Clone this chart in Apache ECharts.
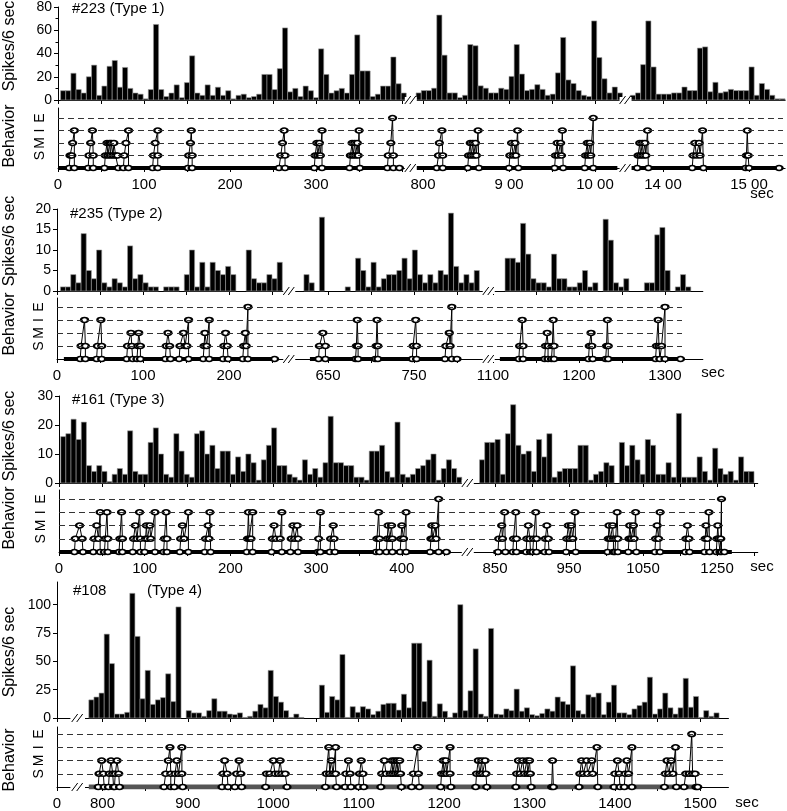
<!DOCTYPE html>
<html>
<head>
<meta charset="utf-8">
<script src="https://cdn.jsdelivr.net/npm/echarts@6.0.0/dist/echarts.min.js"></script>
<style>
html,body{margin:0;padding:0;background:#fff;}
#chart{width:787px;height:811px;}
</style>
</head>
<body>
<div id="chart"></div>
<script>
// ================= DATA =================
// Behaviour level names (0 = rest baseline)
const behLevels = {1:'S', 2:'M', 3:'I', 4:'E'};

// ---------- Panel 1: #223 (Type 1) ----------
const hist1A_start = 3;
const hist1A = [8,8,23,9,6,20,30,4,12,29,34,11,28,10,6,5,1,9,65,9,3,6,13,2,15,38,6,4,13,4,11,4,8,1,4,5,2,3,5,22,22,9,27,62,7,10,3,12,8,2,44,22,6,8,10,6,22,56,25,25,3,5,12,12,37,14,6];
const hist1B_start = 792;
const hist1B = [6,8,8,10,72,38,6,6,2,4,47,46,12,10,6,6,10,9,20,47,22,8,9,13,9,4,5,23,53,17,14,8,4,3,67,36,18,6,11,6];
const hist1C_start = 1362;
const hist1C = [4,6,30,67,28,5,5,5,6,6,11,8,8,44,45,7,15,6,7,9,8,8,8,28,4,14,9,4,1,1];
const base1A = [1, 398], base1B = [791, 1026], base1C = [1361, 1536];
const beh1A = [
 [[13,0],[14,1],[16,1],[17,2],[19,3],[19,0]],
 [[35,0],[36,1],[38,2],[40,3],[41,1],[41,0]],
 [[54,0],[55,1],[57,2],[58,1],[60,2],[61,1],[62,2],[64,1],[65,2],[67,1],[69,1],[70,0]],
 [[76,0],[77,1],[79,2],[82,3],[82,0]],
 [[110,0],[111,1],[113,2],[116,3],[116,1],[116,0]],
 [[151,0],[152,1],[154,2],[155,3],[156,1],[156,0]],
 [[257,0],[259,1],[261,2],[263,3],[264,1],[264,0]],
 [[298,0],[299,1],[301,2],[302,1],[304,2],[305,1],[307,3],[307,0]],
 [[339,0],[340,1],[342,2],[343,1],[345,2],[346,1],[348,2],[349,1],[350,3],[351,0]],
 [[383,0],[384,1],[387,2],[389,4],[390,1],[390,0]],
 [[397,0]]
];
const beh1B = [
 [[816,0],[818,1],[819,2],[822,3],[823,1],[823,0]],
 [[852,0],[853,1],[855,2],[856,1],[858,2],[859,1],[861,2],[862,1],[864,3],[865,0]],
 [[900,0],[901,1],[903,2],[905,1],[907,2],[908,1],[910,3],[911,0]],
 [[953,0],[954,1],[956,2],[957,1],[960,2],[961,1],[962,3],[963,0]],
 [[988,0],[989,1],[991,2],[992,1],[994,2],[995,1],[998,4],[998,0]]
];
const beh1C = [
 [[1370,0],[1371,1],[1373,2],[1374,1],[1376,2],[1377,1],[1379,2],[1380,1],[1382,3],[1383,0]],
 [[1434,0],[1435,1],[1437,2],[1439,1],[1442,2],[1443,1],[1446,3],[1447,0]],
 [[1496,0],[1497,1],[1498,3],[1499,1],[1500,0]],
 [[1535,0]]
];
const xTicks1A = [0,50,100,150,200,250,300,350,400];
const xLabels1A = [[0,'0'],[100,'100'],[200,'200'],[300,'300']];
const xTicks1B = [800,850,900,950,1000];
const xLabels1B = [[800,'800'],[900,'9 00'],[1000,'10 00']];
const xTicks1C = [1400,1450,1500];
const xLabels1C = [[1400,'14 00'],[1500,'15 00']];

// ---------- Panel 2: #235 (Type 2) ----------
const hist2A_start = 4;
const hist2A = [1,1,4,2,14,5,3,10,2,1,3,2,1,11,3,4,2,1,1,0,1,1,1,0,4,10,1,7,1,7,5,4,6,4,0,0,10,3,2,2,4,3,7];
const hist2B_start = 610;
const hist2B = [0,0,4,2,0,18,0,0,0,0,1,0,8,5,1,7,1,3,4,4,5,8,3,10,4,2,4,2,5,4,19,6,2,4,2,5];
const hist2C_start = 1114;
const hist2C = [8,8,7,16.5,9,3,2,2,1,9,3,3,1,1,2,5,1,2,0,17.5,12.4,2,1,3,0,0,0,2,2,13.7,15.5,5,0,1,4,1];
const base2A = [8, 254], base2B = [629, 804], base2C = [1108, 1319];
const beh2A = [
 [[27,0],[28,1],[32,3],[33,1],[33,0]],
 [[46,0],[47,1],[51,3],[52,1],[52,0]],
 [[81,0],[82,1],[86,2],[87,1],[88,0]],
 [[93,0],[94,1],[95,2],[97,1],[97,0]],
 [[126,0],[127,1],[129,2],[131,1],[132,0]],
 [[142,0],[143,1],[147,2],[149,1],[151,1],[153,3],[153,0]],
 [[170,0],[171,1],[172,2],[174,1],[177,3],[177,0]],
 [[193,0],[194,1],[196,2],[198,1],[199,0]],
 [[216,0],[217,1],[219,2],[220,1],[222,4],[222,0]],
 [[253,0]]
];
const beh2B = [
 [[639,0],[640,1],[644,2],[647,1],[647,0]],
 [[682,0],[683,1],[684,3],[685,1],[685,0]],
 [[705,0],[706,1],[707,3],[708,1],[708,0]],
 [[748,0],[749,1],[752,3],[753,1],[753,0]],
 [[786,0],[787,1],[791,2],[792,1],[794,4],[794,0]],
 [[800,0]]
];
const beh2C = [
 [[1130,0],[1131,1],[1134,3],[1135,1],[1135,0]],
 [[1160,0],[1161,1],[1163,2],[1164,1],[1164,0]],
 [[1168,0],[1169,1],[1170,3],[1171,1],[1171,0]],
 [[1211,0],[1212,1],[1214,2],[1215,1],[1216,0]],
 [[1231,0],[1232,1],[1233,3],[1234,1],[1234,0]],
 [[1289,0],[1290,1],[1292,3],[1293,1],[1294,0],[1296,1],[1300,4],[1300,0]],
 [[1318,0]]
];
const xTicks2A = [0,50,100,150,200,250];
const xLabels2A = [[0,'0'],[100,'100'],[200,'200']];
const xTicks2B = [650,700,750,800];
const xLabels2B = [[650,'650'],[750,'750']];
const xTicks2C = [1100,1150,1200,1250,1300];
const xLabels2C = [[1100,'1100'],[1200,'1200'],[1300,'1300']];

// ---------- Panel 3: #161 (Type 3) ----------
const hist3A_start = 2;
const hist3A = [16,17,22,15,21,6,4,6,4,0.5,3,5,3,18,4,3,3,14,19,10,3,2,17,11,3,2,17,18,10,13,5,11,11,3,9,4,10,7,1,8,13,19,6,6,3,2,1,8,3,5,2,7,23,7,7,6,6,2,2,1,11,11,13,4,2,21,3,2,3,5,6,8,10,1,5,8,5,2];
const hist3B_start = 829;
const hist3B = [8,14,14,15,3,17,27,13,10,11,4,15,9,17,2,4,5,5,5,13,13,1,3,4,7,6,0,14,6,13,8,3,15,13,3,3,7,2,24,2,2,2,9,4,1,12,5,3,4,1,9,4,4];
const base3A = [1, 456], base3B = [848, 1170];
const beh3A = [
 [[18,0],[19,1],[24,2],[27,1],[28,0]],
 [[40,0],[41,1],[44,2],[46,1],[48,3],[48,0]],
 [[53,0],[54,1],[56,3],[57,1],[57,0]],
 [[70,0],[71,1],[73,3],[74,1],[74,0]],
 [[86,0],[87,1],[89,2],[91,1],[94,3],[95,1],[95,0]],
 [[100,0],[101,1],[102,2],[103,1],[106,2],[107,1],[112,3],[112,0]],
 [[122,0],[123,1],[125,3],[126,1],[126,0]],
 [[141,0],[142,1],[144,2],[146,1],[151,3],[151,0]],
 [[170,0],[171,1],[174,2],[175,1],[176,3],[177,0]],
 [[219,0],[220,1],[221,3],[222,1],[224,1],[226,3],[226,0]],
 [[248,0],[249,1],[251,2],[253,1],[258,1],[260,3],[260,0]],
 [[270,0],[271,1],[273,2],[275,1],[278,2],[279,1],[279,0]],
 [[302,0],[303,1],[305,3],[305,0]],
 [[316,0],[317,1],[320,2],[321,1],[322,0]],
 [[370,0],[371,1],[373,3],[374,1],[374,0]],
 [[382,0],[383,1],[384,2],[386,1],[388,2],[389,1],[389,0]],
 [[398,0],[399,1],[400,2],[402,1],[405,3],[405,0]],
 [[433,0],[434,1],[435,2],[436,1],[439,2],[440,1],[443,4],[443,0]],
 [[452,0]]
];
const beh3B = [
 [[854,0],[855,1],[859,2],[860,1],[863,3],[864,0]],
 [[874,0],[875,1],[878,3],[879,1],[879,0]],
 [[892,0],[893,1],[895,2],[897,1],[898,0]],
 [[901,0],[902,1],[905,3],[906,1],[906,0]],
 [[917,0],[918,1],[920,2],[922,1],[923,0]],
 [[946,0],[947,1],[949,2],[951,1],[953,2],[955,1],[958,3],[959,0]],
 [[1002,0],[1003,1],[1004,2],[1006,1],[1009,2],[1010,1],[1010,0]],
 [[1012,0],[1013,1],[1015,3],[1016,1],[1016,0]],
 [[1030,0],[1031,1],[1032,2],[1034,1],[1037,2],[1038,1],[1040,3],[1041,0]],
 [[1066,0],[1067,1],[1069,2],[1071,1],[1073,3],[1073,0]],
 [[1107,0],[1108,1],[1110,2],[1112,1],[1113,0]],
 [[1133,0],[1134,1],[1135,2],[1137,1],[1139,3],[1140,0]],
 [[1149,0],[1150,1],[1151,2],[1152,1],[1154,0],[1155,1],[1156,4],[1156,0],[1160,0]]
];
const xTicks3A = [0,50,100,150,200,250,300,350,400,450];
const xLabels3A = [[0,'0'],[100,'100'],[200,'200'],[300,'300'],[400,'400']];
const xTicks3B = [850,900,950,1000,1050,1100,1150,1200];
const xLabels3B = [[850,'850'],[950,'950'],[1050,'1050'],[1150,'1250']];

// ---------- Panel 4: #108 (Type 4) ----------
const hist4B_start = 784;
const hist4B = [16,18.5,22,74,48,3.5,3.5,5,110,72,17,42,12,16,18,39,14.5,98,0,6.5,4.5,4.5,1.5,6.5,17,6,6,3.5,3,4.5,0.5,1.5,6,12,9,42,19,14,6.5,0.5,3.5,0.5,0,0,0,29,5,19,16,56,0.5,10,5,10,8,3,6,12,13,13,7,
 21,9,66,66,14.5,51,1.5,12.5,6,0.5,4.5,100,6.5,24,61,3.5,1.5,79,3.5,3,8,6.5,25.5,6,9,3,2,4,8,6,18.5,14.5,12,46,6.5,3.5,20.5,18.5,22,3,14,29,4.5,4.5,3,8,11,14,36,3.5,8,22,9,3.5,9,35,9.5,19,0.5,6.5,1.5,4.5];
const base4B = [784, 1498];
const beh4B = [
 [[795,0],[796,1],[799,2],[801,1],[802,0]],
 [[807,0],[808,1],[810,2],[812,1],[813,0]],
 [[814,0],[815,1],[817,2],[819,1],[820,0]],
 [[872,0],[874,1],[877,2],[879,3],[880,1],[880,0]],
 [[884,0],[885,1],[887,2],[889,1],[893,3],[893,1],[894,0]],
 [[940,0],[941,1],[943,2],[946,1],[947,0]],
 [[955,0],[957,1],[960,2],[962,1],[963,0]],
 [[991,0],[992,1],[996,1],[1000,2],[1002,1],[1006,1],[1008,2],[1010,1],[1014,1],[1016,0]],
 [[1061,0],[1062,1],[1065,3],[1066,1],[1068,2],[1070,1],[1073,3],[1073,1],[1074,0]],
 [[1084,0],[1085,1],[1088,2],[1090,1],[1091,0]],
 [[1100,0],[1101,1],[1103,2],[1105,1],[1106,0]],
 [[1126,0],[1127,1],[1130,2],[1132,1],[1137,1],[1139,2],[1140,1],[1142,2],[1143,1],[1145,2],[1146,1],[1148,2],[1149,1],[1150,0]],
 [[1162,0],[1164,1],[1169,3],[1170,1],[1171,0]],
 [[1196,0],[1197,1],[1199,2],[1200,1],[1202,2],[1203,1],[1207,3],[1207,1],[1208,0]],
 [[1237,0],[1238,1],[1240,2],[1242,1],[1244,2],[1245,1],[1248,2],[1249,1],[1250,0]],
 [[1284,0],[1285,1],[1287,2],[1289,1],[1292,2],[1294,1],[1297,2],[1298,1],[1300,2],[1301,1],[1302,0]],
 [[1326,0],[1327,2],[1328,0]],
 [[1358,0],[1359,1],[1361,2],[1363,1],[1367,2],[1368,1],[1373,2],[1374,1],[1379,3],[1380,0]],
 [[1399,0],[1400,1],[1403,2],[1405,1],[1406,0]],
 [[1411,0],[1412,1],[1414,2],[1416,1],[1420,3],[1420,0]],
 [[1458,0],[1459,1],[1461,2],[1463,1],[1466,2],[1468,1],[1471,3],[1472,0]],
 [[1481,0],[1483,1],[1487,1],[1490,4],[1491,1],[1494,1],[1495,0],[1497,0]]
];
const xTicks4A = [0];
const xLabels4A = [[0,'0']];
const xTicks4B = [800,850,900,950,1000,1050,1100,1150,1200,1250,1300,1350,1400,1450,1500];
const xLabels4B = [[800,'800'],[900,'900'],[1000,'1000'],[1100,'1100'],[1200,'1200'],[1300,'1300'],[1400,'1400'],[1500,'1500']];

// ================= LAYOUT =================
const FONT = 'Liberation Sans, Arial, Helvetica, sans-serif';
const panels = [
 {title:[['#223 (Type 1)',72,9]], hist:{top:5.6,h:94.4,max:80,step:20,minor:true}, beh:{top:108,h:60,max:4.8},
  dashEnd:783, baseColor:'#000', baseWidth:4,
  names:{spikes:[10,46], beh:[10,136]}, sec:[762,194],
  segs:[
   {left:58, min:0, max:406, k:0.86, ticks:xTicks1A, labels:xLabels1A, bars:hist1A, barStart:hist1A_start, bin:6, beh:beh1A, base:base1A},
   {left:414.4, min:790, max:1032, k:0.86, ticks:xTicks1B, labels:xLabels1B, bars:hist1B, barStart:hist1B_start, bin:6, beh:beh1B, base:base1B},
   {left:628.6, min:1360, max:1542, k:0.86, ticks:xTicks1C, labels:xLabels1C, bars:hist1C, barStart:hist1C_start, bin:6, beh:beh1C, base:base1C}
  ]},
 {title:[['#235 (Type 2)',70,214]], hist:{top:209,h:82,max:20,step:5,minor:false}, beh:{top:298,h:61,max:4.69},
  dashEnd:682, baseColor:'#000', baseWidth:4,
  names:{spikes:[10,241], beh:[10,324]}, sec:[713,373],
  segs:[
   {left:57, min:0, max:265, k:0.86, ticks:xTicks2A, labels:xLabels2A, bars:hist2A, barStart:hist2A_start, bin:6, beh:beh2A, base:base2A},
   {left:293.6, min:610, max:832, k:0.86, ticks:xTicks2B, labels:xLabels2B, bars:hist2B, barStart:hist2B_start, bin:6, beh:beh2B, base:base2B},
   {left:493, min:1100, max:1344, k:0.86, ticks:xTicks2C, labels:xLabels2C, bars:hist2C, barStart:hist2C_start, bin:6, beh:beh2C, base:base2C}
  ]},
 {title:[['#161 (Type 3)',72,400]], hist:{top:396,h:87,max:30,step:10,minor:false}, beh:{top:490,h:62,max:4.68},
  dashEnd:723, baseColor:'#000', baseWidth:4,
  names:{spikes:[10,436], beh:[10,518]}, sec:[762,567],
  segs:[
   {left:59, min:0, max:472, k:0.857, ticks:xTicks3A, labels:xLabels3A, bars:hist3A, barStart:hist3A_start, bin:6, beh:beh3A, base:base3A},
   {left:472.1, min:819, max:1205, k:0.74, ticks:xTicks3B, labels:xLabels3B, bars:hist3B, barStart:hist3B_start, bin:7, beh:beh3B, base:base3B}
  ]},
 {title:[['#108',73,591],['(Type 4)',147,591]], hist:{top:582,h:136,max:120,step:25,minor:false}, beh:{top:727,h:60,max:4.53},
  dashEnd:727, baseColor:'#555', baseWidth:5,
  names:{spikes:[10,652], beh:[10,760]}, sec:[747,803],
  segs:[
   {left:57, min:0, max:15, k:0.866, ticks:xTicks4A, labels:xLabels4A, bars:[], barStart:0, bin:6, beh:[], base:null},
   {left:85.4, min:780, max:1533, k:0.854, ticks:xTicks4B, labels:xLabels4B, bars:hist4B, barStart:hist4B_start, bin:6, beh:beh4B, base:base4B}
  ]}
];

// ================= BUILD =================
const grid = [], xAxis = [], yAxis = [], series = [], graphic = [];
function addGrid(left, top, width, height){ grid.push({left, top, width, height, containLabel:false}); return grid.length - 1; }
function barRender(bin){
  return function(params, api){
    const t = api.value(0), v = api.value(1);
    if (!(v > 0)) return null;
    const p0 = api.coord([t, 0]), p1 = api.coord([t + bin, v]);
    return {type:'rect', shape:{x:p0[0], y:p1[1], width:p1[0]-p0[0], height:p0[1]-p1[1]},
            style:{fill:'#000', stroke:'#9a9a9a', lineWidth:0.6}};
  };
}
const black = {color:'#000', width:1};

panels.forEach(P => {
  P.segs.forEach((S, si) => {
    const width = (S.max - S.min) * S.k;
    // ---- histogram ----
    const gh = addGrid(S.left, P.hist.top, width, P.hist.h);
    xAxis.push({gridIndex:gh, type:'value', min:S.min, max:S.max,
      axisLine:{show:true, onZero:false, lineStyle:black},
      axisTick:{show:true, customValues:S.ticks, length:4, lineStyle:black},
      axisLabel:{show:false}, splitLine:{show:false}});
    if (si === 0) {
      yAxis.push({gridIndex:gh, type:'value', min:0, max:P.hist.max, interval:P.hist.step,
        axisLine:{show:true, lineStyle:black},
        axisTick:{show:true, length:4, lineStyle:black},
        minorTick:{show:P.hist.minor, splitNumber:2, length:2.5, lineStyle:black},
        axisLabel:{fontSize:14, color:'#000', fontFamily:FONT, margin:6, showMaxLabel: P.hist.max % P.hist.step === 0},
        splitLine:{show:false}});
    } else {
      yAxis.push({gridIndex:gh, type:'value', min:0, max:P.hist.max, show:false});
    }
    if (S.bars.length) {
      series.push({type:'custom', xAxisIndex:gh, yAxisIndex:gh, renderItem:barRender(S.bin),
        data:S.bars.map((v, i) => [S.barStart + i * S.bin, v]), z:2});
    }
    // ---- behaviour ----
    const gb = addGrid(S.left, P.beh.top, width, P.beh.h);
    const lblMap = {}; S.labels.forEach(l => { lblMap[l[0]] = l[1]; });
    xAxis.push({gridIndex:gb, type:'value', min:S.min, max:S.max,
      axisLine:{show:true, onZero:false, lineStyle:black},
      axisTick:{show:true, customValues:S.ticks, length:4, lineStyle:black},
      axisLabel:{show:true, customValues:S.labels.map(l => l[0]), formatter:v => (lblMap[v] !== undefined ? lblMap[v] : ''),
        fontSize:15, color:'#000', fontFamily:FONT, margin:9, showMinLabel:true, showMaxLabel:true},
      splitLine:{show:false}});
    yAxis.push({gridIndex:gb, type:'value', min:0, max:P.beh.max, show:false});
    if (S.base) {
      series.push({type:'line', xAxisIndex:gb, yAxisIndex:gb, data:[[S.base[0],0],[S.base[1],0]],
        symbol:'none', lineStyle:{color:P.baseColor, width:P.baseWidth}, z:3, silent:true});
    }
    S.beh.forEach(cl => {
      series.push({type:'line', xAxisIndex:gb, yAxisIndex:gb, data:cl,
        symbol:'emptyCircle', symbolSize:[7,5], showSymbol:true,
        lineStyle:{color:'#000', width:1}, itemStyle:{color:'#000', borderColor:'#000', borderWidth:1},
        z:4, silent:true});
    });
  });
  // ---- behaviour overlay (y axis + dashed level lines) ----
  const L = P.segs[0].left;
  const go = addGrid(L, P.beh.top, P.dashEnd - L, P.beh.h);
  xAxis.push({gridIndex:go, type:'value', min:0, max:1, show:false});
  yAxis.push({gridIndex:go, type:'value', min:0, max:P.beh.max, interval:1,
    axisLine:{show:true, lineStyle:black}, axisTick:{show:false}, splitLine:{show:false},
    axisLabel:{customValues:[1,2,3,4], formatter:v => behLevels[v] || '', rotate:90, fontSize:14, color:'#000', fontFamily:FONT, margin:11}});
  series.push({type:'line', xAxisIndex:go, yAxisIndex:go, data:[[0,0]], symbol:'none', lineStyle:{opacity:0}, z:1, silent:true,
    markLine:{silent:true, symbol:['none','none'], label:{show:false}, animation:false,
      lineStyle:{type:[6,4], color:'#333', width:1},
      data:[{yAxis:1},{yAxis:2},{yAxis:3},{yAxis:4}]}});

  // ---- texts ----
  P.title.forEach(t => graphic.push({type:'text', x:t[1], y:t[2], silent:true,
    style:{text:t[0], fontSize:15, fontFamily:FONT, fill:'#000', align:'left', verticalAlign:'middle'}}));
  graphic.push({type:'text', x:P.names.spikes[0], y:P.names.spikes[1], rotation:Math.PI/2, silent:true,
    style:{text:'Spikes/6 sec', fontSize:16, fontFamily:FONT, fill:'#000', align:'center', verticalAlign:'middle'}});
  graphic.push({type:'text', x:P.names.beh[0], y:P.names.beh[1], rotation:Math.PI/2, silent:true,
    style:{text:'Behavior', fontSize:16, fontFamily:FONT, fill:'#000', align:'center', verticalAlign:'middle'}});
  graphic.push({type:'text', x:P.sec[0], y:P.sec[1], silent:true,
    style:{text:'sec', fontSize:15, fontFamily:FONT, fill:'#000', align:'center', verticalAlign:'middle'}});

  // ---- axis-break marks "//" ----
  for (let i = 0; i < P.segs.length - 1; i++) {
    const a = P.segs[i], b = P.segs[i+1];
    const cx = (a.left + (a.max - a.min) * a.k + b.left) / 2;
    [P.hist.top + P.hist.h, P.beh.top + P.beh.h].forEach(y => {
      graphic.push({type:'rect', shape:{x:cx-6, y:y-3, width:12, height:6}, style:{fill:'#fff'}, silent:true, z:50});
      [-3, 2].forEach(dx => graphic.push({type:'line', silent:true, z:51,
        shape:{x1:cx+dx-3, y1:y+4, x2:cx+dx+3, y2:y-4}, style:{stroke:'#000', lineWidth:1}}));
    });
  }
});

const chart = echarts.init(document.getElementById('chart'), null, {renderer:'canvas'});
chart.setOption({animation:false, backgroundColor:'#fff', grid, xAxis, yAxis, series, graphic});
</script>
</body>
</html>
